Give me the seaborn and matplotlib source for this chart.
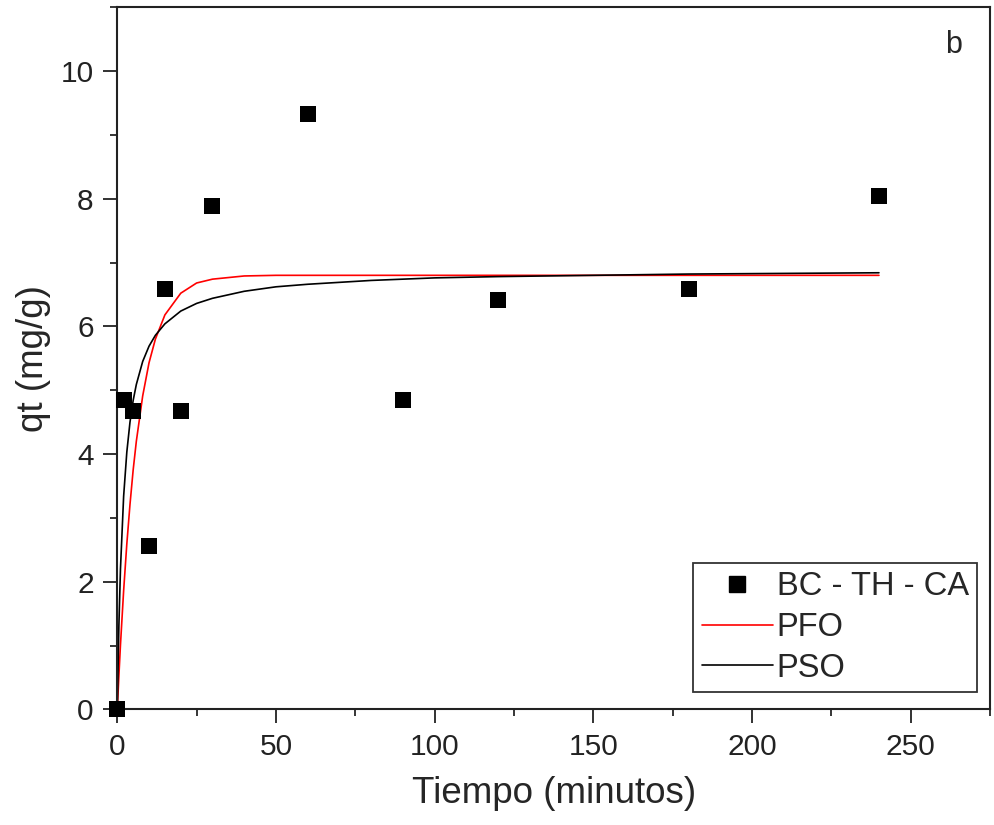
import numpy as np
import pandas as pd
import seaborn as sns
import matplotlib.pyplot as plt
from matplotlib.ticker import MultipleLocator
from matplotlib.lines import Line2D

# Experimental points (BC - TH - CA)
t_exp = [0, 2, 5, 10, 15, 20, 30, 60, 90, 120, 180, 240]
q_exp = [0.0, 4.84, 4.67, 2.56, 6.58, 4.67, 7.88, 9.33, 4.84, 6.41, 6.58, 8.05]

# Fitted curves
t_fit = [0, 0.5, 1, 2, 3, 4, 5, 6, 8, 10, 12, 15, 20, 25, 30, 40, 50, 60,
         80, 100, 120, 150, 180, 210, 240]
q_pfo = [0.0, 0.52, 1.01, 1.86, 2.59, 3.21, 3.75, 4.20, 4.91, 5.43, 5.80,
         6.18, 6.52, 6.68, 6.74, 6.79, 6.80, 6.80, 6.80, 6.80, 6.80, 6.80,
         6.80, 6.80, 6.80]
q_pso = [0.0, 1.31, 2.20, 3.34, 4.03, 4.50, 4.84, 5.09, 5.45, 5.69, 5.86,
         6.04, 6.24, 6.36, 6.44, 6.55, 6.62, 6.66, 6.72, 6.76, 6.78, 6.80,
         6.82, 6.83, 6.84]

df_exp = pd.DataFrame({'t': t_exp, 'q': q_exp})
df_fit = pd.DataFrame({'t': t_fit, 'PFO': q_pfo, 'PSO': q_pso})

sns.set_style('ticks')
plt.rcParams['font.family'] = ['Liberation Sans', 'DejaVu Sans']

fig = plt.figure(figsize=(9.94, 8.25), dpi=100)
ax = fig.add_axes([0.118, 0.1402, 0.878, 0.851])

sns.lineplot(data=df_fit, x='t', y='PFO', color='#ff0000', linewidth=1.2, ax=ax, zorder=2)
sns.lineplot(data=df_fit, x='t', y='PSO', color='black', linewidth=1.2, ax=ax, zorder=2)
sns.scatterplot(data=df_exp, x='t', y='q', marker='s', s=120, color='black',
                edgecolor='black', linewidth=0, ax=ax, zorder=3, clip_on=False)

ax.set_xlim(0, 275)
ax.set_ylim(0, 11)
ax.xaxis.set_major_locator(MultipleLocator(50))
ax.xaxis.set_minor_locator(MultipleLocator(25))
ax.yaxis.set_major_locator(MultipleLocator(2))
ax.yaxis.set_minor_locator(MultipleLocator(1))
ax.tick_params(which='major', direction='out', length=10, width=1.3,
               labelsize=21.5, pad=7, colors='#222222')
ax.tick_params(which='minor', direction='out', length=5, width=1.3)
for sp in ax.spines.values():
    sp.set_linewidth(1.5)
    sp.set_color('#222222')

ax.set_xlabel('Tiempo (minutos)', fontsize=26.5, labelpad=11)
ax.set_ylabel('qt (mg/g)', fontsize=26.5, labelpad=7)

ax.text(0.948, 0.968, 'b', transform=ax.transAxes, fontsize=22,
        ha='left', va='top')

handles = [
    Line2D([], [], marker='s', color='black', linestyle='none', markersize=11),
    Line2D([], [], color='#ff0000', linewidth=1.2),
    Line2D([], [], color='black', linewidth=1.2),
]
leg = ax.legend(handles, ['BC - TH - CA', 'PFO', 'PSO'], loc='lower right',
                bbox_to_anchor=(0.985, 0.0246), borderaxespad=0, fontsize=23.5,
                frameon=True, fancybox=False, edgecolor='black',
                handlelength=2.2, handletextpad=0.1, labelspacing=0.3,
                borderpad=0.25)
leg.get_frame().set_linewidth(1.3)

fig.savefig('out.png', dpi=100)
